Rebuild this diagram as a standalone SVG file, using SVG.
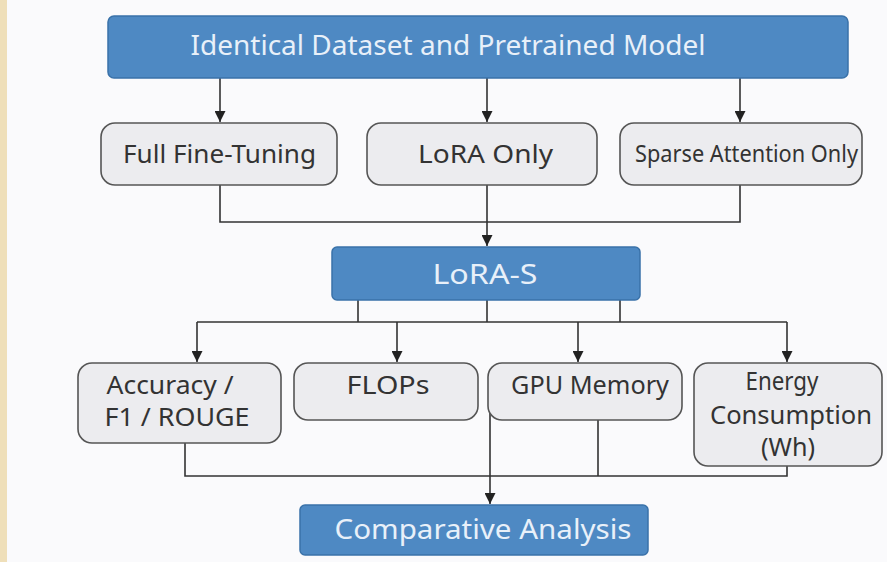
<svg xmlns="http://www.w3.org/2000/svg" width="887" height="562" viewBox="0 0 887 562">
<defs>
<marker id="ah" viewBox="0 0 10 10" refX="10" refY="5" markerWidth="11" markerHeight="11" markerUnits="userSpaceOnUse" orient="auto"><path d="M0,0 L10,5 L0,10 z" fill="#222"/></marker>
<style>
.blue{fill:#4e89c3;stroke:#3a72a9;stroke-width:1.5}
.gray{fill:#ececef;stroke:#555;stroke-width:1.6}
.bt{font-family:"Noto Sans","Open Sans",sans-serif;font-size:27px;fill:#e8f0f9;text-anchor:middle}
.gt{font-family:"Noto Sans","Open Sans",sans-serif;font-size:25px;fill:#333;text-anchor:middle}
.ln{fill:none;stroke:#333;stroke-width:1.6}
</style>
</defs>
<rect width="887" height="562" fill="#fafafc"/>
<rect x="0" y="0" width="7" height="562" fill="#efdfb9"/>
<g id="connectors">
<path class="ln" d="M220,78 V122" marker-end="url(#ah)"/>
<path class="ln" d="M487,78 V122" marker-end="url(#ah)"/>
<path class="ln" d="M740,78 V122" marker-end="url(#ah)"/>
<path class="ln" d="M220,185 V222 H740 V185"/>
<path class="ln" d="M487,185 V246" marker-end="url(#ah)"/>
<path class="ln" d="M358,300 V322 M487,300 V322 M620,300 V322"/>
<path class="ln" d="M197,322 H787"/>
<path class="ln" d="M197,322 V362" marker-end="url(#ah)"/>
<path class="ln" d="M397,322 V362" marker-end="url(#ah)"/>
<path class="ln" d="M578,322 V362" marker-end="url(#ah)"/>
<path class="ln" d="M787,322 V362" marker-end="url(#ah)"/>
<path class="ln" d="M185,443 V476 H787 V466 M598,420 V476"/>
<path class="ln" d="M490,410 V504" marker-end="url(#ah)"/>
</g>
<g id="n1"><rect class="blue" x="108" y="16" width="740" height="62" rx="6"/><text class="bt" x="448" y="55" textLength="515" lengthAdjust="spacingAndGlyphs">Identical Dataset and Pretrained Model</text></g>
<g id="n2"><rect class="gray" x="101" y="123" width="236" height="62" rx="14"/><text class="gt" x="219.5" y="163" textLength="193" lengthAdjust="spacingAndGlyphs">Full Fine-Tuning</text></g>
<g id="n3"><rect class="gray" x="367" y="123" width="230" height="62" rx="14"/><text class="gt" x="485.5" y="163" textLength="135" lengthAdjust="spacingAndGlyphs">LoRA Only</text></g>
<g id="n4"><rect class="gray" x="620" y="123" width="242" height="62" rx="14"/><text class="gt" x="746.5" y="162" style="font-size:23px" textLength="223" lengthAdjust="spacingAndGlyphs">Sparse Attention Only</text></g>
<g id="n5"><rect class="blue" x="332" y="247" width="308" height="53" rx="5"/><text class="bt" x="485" y="284" textLength="105" lengthAdjust="spacingAndGlyphs">LoRA-S</text></g>
<g id="n6"><rect class="gray" x="78" y="363" width="203" height="80" rx="14"/><text class="gt" x="170" y="394" textLength="127" lengthAdjust="spacingAndGlyphs">Accuracy /</text><text class="gt" x="177" y="426" textLength="145" lengthAdjust="spacingAndGlyphs">F1 / ROUGE</text></g>
<g id="n7"><rect class="gray" x="294" y="363" width="184" height="57" rx="14"/><text class="gt" x="388" y="394" textLength="83" lengthAdjust="spacingAndGlyphs">FLOPs</text></g>
<g id="n8"><rect class="gray" x="488" y="363" width="194" height="57" rx="14"/><text class="gt" x="590" y="394" textLength="158" lengthAdjust="spacingAndGlyphs">GPU Memory</text></g>
<g id="n9"><rect class="gray" x="694" y="363" width="188" height="103" rx="14"/><text class="gt" x="782" y="390" textLength="73" lengthAdjust="spacingAndGlyphs">Energy</text><text class="gt" x="791" y="424" textLength="162" lengthAdjust="spacingAndGlyphs">Consumption</text><text class="gt" x="788" y="456" textLength="54" lengthAdjust="spacingAndGlyphs">(Wh)</text></g>
<g id="n10"><rect class="blue" x="300" y="505" width="348" height="50" rx="5"/><text class="bt" x="483" y="539" textLength="297" lengthAdjust="spacingAndGlyphs">Comparative Analysis</text></g>
</svg>
